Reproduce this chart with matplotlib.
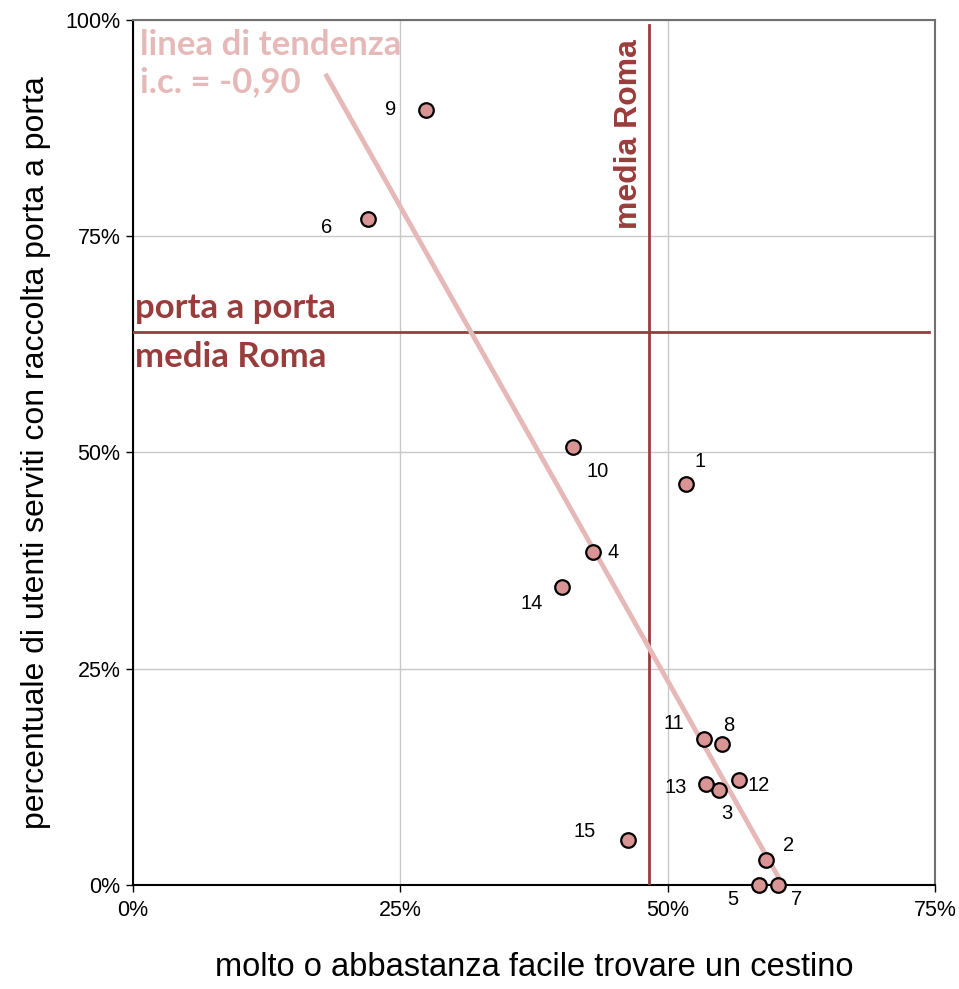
import numpy as np
import matplotlib.pyplot as plt
from matplotlib.ticker import FuncFormatter

# data (percent)
pointLabels = ["1", "2", "3", "4", "5", "6", "7", "8", "9", "10", "11", "12", "13", "14", "15"]
xValues = [51.7, 59.2, 54.8, 43.0, 58.5, 22.0, 60.3, 55.1, 27.4, 41.1, 53.4, 56.7, 53.6, 40.1, 46.3]
yValues = [46.4, 2.9, 11.0, 38.5, 0.0, 77.0, 0.0, 16.3, 89.6, 50.6, 16.9, 12.1, 11.7, 34.5, 5.2]
# label offsets (pixels) relative to each point
labelOffsets = [(14, 22), (22, 14), (8, -24), (20, -1), (-26, -15), (-42, -9), (19, -15), (7, 18),
                (-35, 0), (25, -24), (-30, 15), (19, -5), (-30, -4), (-30, -17), (-43, 8)]
meanX = 48.25
meanY = 63.9
trendStart = 18.1

darkRed = "#993c3c"
trendColor = "#e6b9b8"
markerColor = "#d99594"

plt.rcParams['font.family'] = ['Liberation Sans', 'DejaVu Sans']

fig = plt.figure(figsize=(9.59, 9.89), dpi=100)
ax = fig.add_axes([0.1387, 0.1052, 0.975 - 0.1387, 0.9798 - 0.1052])

ax.set_xlim(0, 75)
ax.set_ylim(0, 100)
ax.set_xticks([0, 25, 50, 75])
ax.set_yticks([0, 25, 50, 75, 100])
pct = FuncFormatter(lambda v, p: "%d%%" % v)
ax.xaxis.set_major_formatter(pct)
ax.yaxis.set_major_formatter(pct)
ax.tick_params(axis='both', direction='out', length=5, labelsize=15.5, width=1)
ax.tick_params(axis='x', pad=6)
ax.tick_params(axis='y', pad=4)
ax.grid(True, color="#c8c8c8", linewidth=1)
ax.set_axisbelow(True)
for s in ['top', 'right']:
    ax.spines[s].set_color("#707070")
    ax.spines[s].set_linewidth(1.5)
for s in ['left', 'bottom']:
    ax.spines[s].set_color("black")
    ax.spines[s].set_linewidth(1.5)

# mean lines
ax.plot([meanX, meanX], [0, 99.4], color=darkRed, linewidth=2, zorder=3)
ax.plot([0, 74.4], [meanY, meanY], color=darkRed, linewidth=2, zorder=3)

# trendline
slope, intercept = np.polyfit(xValues, yValues, 1)
tx = np.array([trendStart, max(xValues)])
ax.plot(tx, slope * tx + intercept, color=trendColor, linewidth=3.5, zorder=4)

ax.scatter(xValues, yValues, s=110, color=markerColor, edgecolors="black", linewidths=1.6,
           zorder=5, clip_on=False)

for lab, x, y, off in zip(pointLabels, xValues, yValues, labelOffsets):
    ax.annotate(lab, (x, y), xytext=off, textcoords='offset pixels', fontsize=14.5,
                ha='center', va='center', zorder=6)

ax.text(0.7, 99.0, "linea di tendenza\ni.c. = -0,90", fontsize=25, fontweight='bold', color=trendColor,
        family=['Lato', 'DejaVu Sans'], va='top', ha='left', linespacing=1.2)
ax.text(0.15, meanY + 0.9, "porta a porta", fontsize=25, fontweight='bold', color=darkRed,
        family=['Lato', 'DejaVu Sans'], va='bottom', ha='left')
ax.text(0.15, meanY - 1.0, "media Roma", fontsize=25, fontweight='bold', color=darkRed,
        family=['Lato', 'DejaVu Sans'], va='top', ha='left')
ax.text(meanX - 0.5, 97.8, "media Roma", fontsize=23, fontweight='bold', color=darkRed,
        rotation=90, va='top', ha='right')

ax.set_xlabel("molto o abbastanza facile trovare un cestino", fontsize=23.5, labelpad=22)
ax.set_ylabel("percentuale di utenti serviti con raccolta porta a porta", fontsize=23, labelpad=10)

fig.savefig("out.png", dpi=100)
